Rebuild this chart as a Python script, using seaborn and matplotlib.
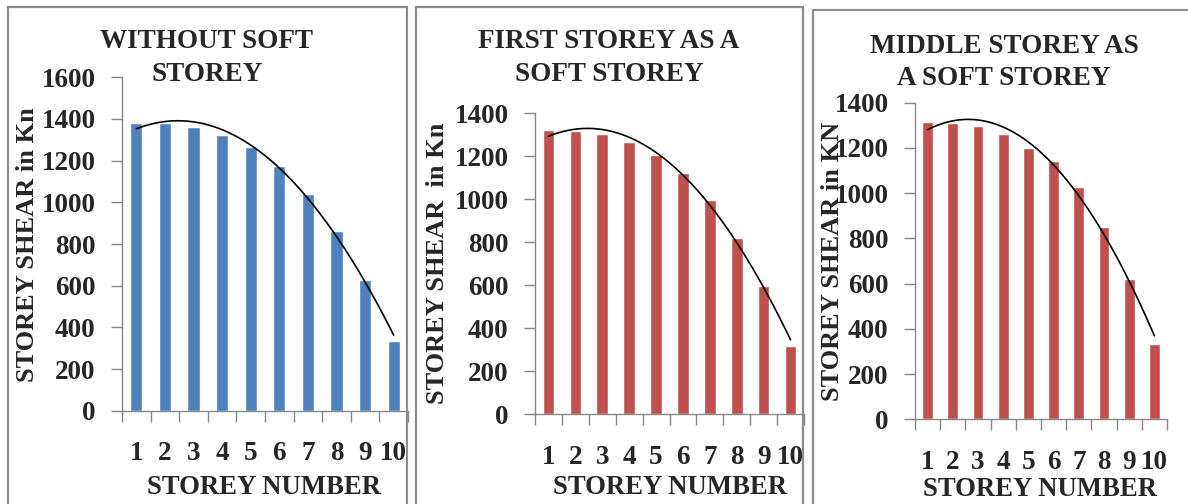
import numpy as np
import matplotlib
matplotlib.use("Agg")
import matplotlib.pyplot as plt
from matplotlib.patches import Rectangle
import seaborn as sns

# Storey shear per storey for three building configurations
storeys = [str(i) for i in range(1, 11)]
shear_regular = [1382, 1380, 1360, 1325, 1267, 1175, 1040, 860, 628, 333]
shear_first_soft = [1320, 1318, 1302, 1268, 1208, 1120, 995, 820, 598, 318]
shear_middle_soft = [1316, 1312, 1297, 1261, 1200, 1140, 1027, 849, 620, 331]

titles = ["WITHOUT SOFT\nSTOREY", "FIRST STOREY AS A\nSOFT STOREY", "MIDDLE STOREY AS\nA SOFT STOREY"]
ylabels = ["STOREY SHEAR in Kn", "STOREY SHEAR  in Kn", "STOREY SHEAR in KN"]
xlabel = "STOREY NUMBER"
ymax = [1600, 1400, 1400]

BLUE = "#4F81BD"
RED = "#C0504D"
GREY = "#878787"

sns.set_theme(style="white")
plt.rcParams["font.family"] = ["Liberation Serif", "DejaVu Serif"]
plt.rcParams["font.weight"] = "bold"

W, H = 1188, 504
fig = plt.figure(figsize=(W / 100, H / 100), dpi=100)


def fx(x):
    return x / W


def fy(y):
    return 1 - y / H


def axes_box(x0, x1, ytop, ybot):
    return [fx(x0), fy(ybot), fx(x1) - fx(x0), fy(ytop) - fy(ybot)]


# panel frames
frames = [(8, 407, 7), (416, 803, 7), (813, 1200, 10)]
for x0, x1, y0 in frames:
    fig.patches.append(Rectangle((fx(x0), fy(520)), fx(x1) - fx(x0), fy(y0) - fy(520),
                                 transform=fig.transFigure, fill=False,
                                 edgecolor="#8c8c8c", linewidth=1.6, zorder=0))

boxes = [axes_box(122, 408, 77.3, 410.7),
         axes_box(535, 804, 113.3, 414),
         axes_box(915, 1167, 102.7, 419.3)]
series = [shear_regular, shear_first_soft, shear_middle_soft]
colors = [BLUE, RED, RED]

title_pos = [(207, 58), (609, 58), (1004, 62.5)]
ylabel_pos = [(28, 245), (437, 263.5), (833, 261)]
xlabel_pos = [(264, 488), (670, 488), (1040, 490)]

for i in range(3):
    ax = fig.add_axes(boxes[i])
    vals = series[i]
    sns.barplot(x=storeys, y=vals, color=colors[i], saturation=1, width=0.43, ax=ax)

    # second-order polynomial trendline
    xs = np.arange(1, 11)
    coef = np.polyfit(xs, vals, 2)
    xd = np.linspace(1, 10, 200)
    ax.plot(xd - 1, np.polyval(coef, xd), color="black", linewidth=1.2, zorder=5)

    ax.set_xlim(-0.5, 9.5)
    ax.set_ylim(0, ymax[i])
    ax.set_yticks(np.arange(0, ymax[i] + 1, 200))
    ax.set_xticks(range(10))
    ax.set_xticks(np.arange(-0.5, 10, 1), minor=True)
    ax.set_xlabel("")
    ax.set_ylabel("")

    for side in ["top", "right"]:
        ax.spines[side].set_visible(False)
    for side in ["left", "bottom"]:
        ax.spines[side].set_color(GREY)
        ax.spines[side].set_linewidth(1.0)

    ax.tick_params(axis="y", which="major", direction="out", length=8, width=1.0,
                   color=GREY, pad=11, labelsize=19.5, left=True)
    ax.tick_params(axis="x", which="major", length=0, pad=22, labelsize=19.5)
    ax.tick_params(axis="x", which="minor", direction="out", length=8, width=1.0,
                   color=GREY, bottom=True)
    for lab in ax.get_xticklabels() + ax.get_yticklabels():
        lab.set_fontweight("bold")
    ax.set_facecolor("none")

    tx, ty = title_pos[i]
    fig.text(fx(tx), fy(ty), titles[i], ha="center", va="center", fontsize=19.5,
             fontweight="bold", linespacing=1.38)
    lx, ly = ylabel_pos[i]
    fig.text(fx(lx), fy(ly), ylabels[i], ha="center", va="center", rotation=90,
             fontsize=19, fontweight="bold")
    bx, by = xlabel_pos[i]
    fig.text(fx(bx), fy(by), xlabel, ha="center", va="center", fontsize=19.3,
             fontweight="bold")

fig.savefig("out.png", dpi=100, facecolor="white")
